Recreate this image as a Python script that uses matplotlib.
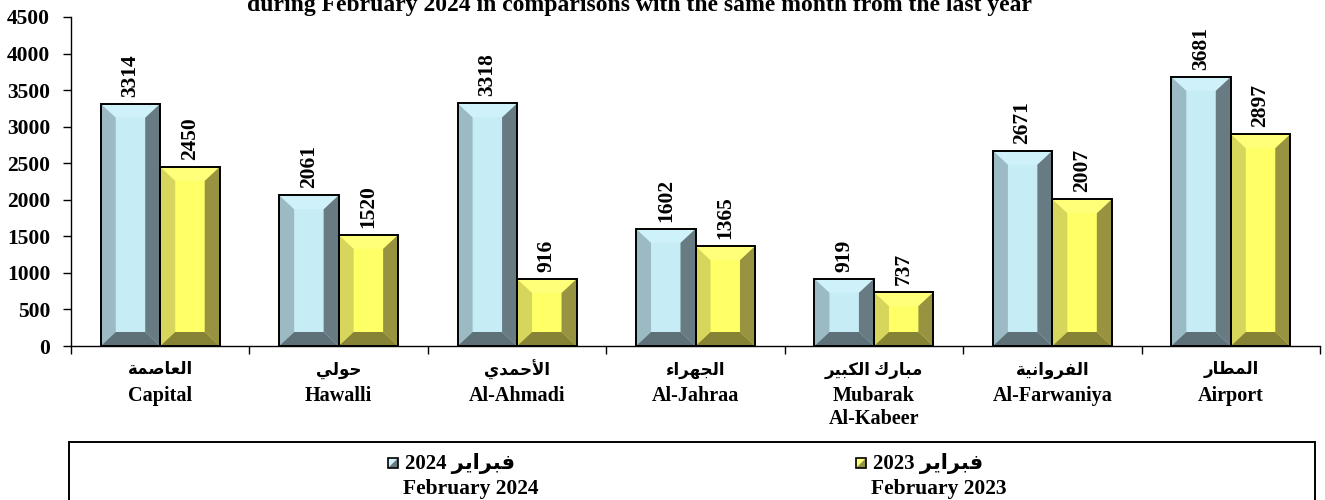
import numpy as np
import matplotlib
matplotlib.use("Agg")
import matplotlib.pyplot as plt
from matplotlib.patches import Polygon, Rectangle

# data
areas_en = ["Capital", "Hawalli", "Al-Ahmadi", "Al-Jahraa", "Mubarak\nAl-Kabeer", "Al-Farwaniya", "Airport"]
areas_ar = ["العاصمة", "حولي", "الأحمدي", "الجهراء", "مبارك الكبير", "الفروانية", "المطار"]
feb_2024 = [3314, 2061, 3318, 1602, 919, 2671, 3681]
feb_2023 = [2450, 1520, 916, 1365, 737, 2007, 2897]
series_en = ["February 2024", "February 2023"]
series_year = ["2024", "2023"]
month_ar = "فبراير"
title = "during February 2024 in comparisons with the same month from the last year"

# tiny arabic shaper: (isolated, final, initial, medial)
FORMS = {
    "\u0621": (0xFE80, None, None, None),
    "\u0623": (0xFE83, 0xFE84, None, None),
    "\u0627": (0xFE8D, 0xFE8E, None, None),
    "\u0628": (0xFE8F, 0xFE90, 0xFE91, 0xFE92),
    "\u0629": (0xFE93, 0xFE94, None, None),
    "\u062C": (0xFE9D, 0xFE9E, 0xFE9F, 0xFEA0),
    "\u062D": (0xFEA1, 0xFEA2, 0xFEA3, 0xFEA4),
    "\u062F": (0xFEA9, 0xFEAA, None, None),
    "\u0631": (0xFEAD, 0xFEAE, None, None),
    "\u0635": (0xFEB9, 0xFEBA, 0xFEBB, 0xFEBC),
    "\u0637": (0xFEC1, 0xFEC2, 0xFEC3, 0xFEC4),
    "\u0639": (0xFEC9, 0xFECA, 0xFECB, 0xFECC),
    "\u0641": (0xFED1, 0xFED2, 0xFED3, 0xFED4),
    "\u0643": (0xFED9, 0xFEDA, 0xFEDB, 0xFEDC),
    "\u0644": (0xFEDD, 0xFEDE, 0xFEDF, 0xFEE0),
    "\u0645": (0xFEE1, 0xFEE2, 0xFEE3, 0xFEE4),
    "\u0646": (0xFEE5, 0xFEE6, 0xFEE7, 0xFEE8),
    "\u0647": (0xFEE9, 0xFEEA, 0xFEEB, 0xFEEC),
    "\u0648": (0xFEED, 0xFEEE, None, None),
    "\u064A": (0xFEF1, 0xFEF2, 0xFEF3, 0xFEF4),
    "LA_HAMZA": (0xFEF7, 0xFEF8, None, None),
    "LA": (0xFEFB, 0xFEFC, None, None),
}


def ar(s):
    toks = []
    i = 0
    while i < len(s):
        if s[i] == "\u0644" and i + 1 < len(s) and s[i + 1] in ("\u0623", "\u0627"):
            toks.append("LA_HAMZA" if s[i + 1] == "\u0623" else "LA")
            i += 2
        else:
            toks.append(s[i])
            i += 1
    out = []
    for k, t in enumerate(toks):
        if t not in FORMS:
            out.append(t)
            continue
        f = FORMS[t]
        prev = toks[k - 1] if k > 0 else None
        nxt = toks[k + 1] if k + 1 < len(toks) else None
        jp = prev in FORMS and FORMS[prev][2] is not None and f[1] is not None
        jn = f[2] is not None and nxt in FORMS and FORMS[nxt][1] is not None
        if jp and jn:
            c = f[3]
        elif jp:
            c = f[1]
        elif jn:
            c = f[2]
        else:
            c = f[0]
        out.append(chr(c))
    return "".join(out[::-1])


serif = ["Liberation Serif", "DejaVu Sans"]
plt.rcParams["font.family"] = serif
plt.rcParams["font.weight"] = "bold"

W, H = 1325, 500
fig = plt.figure(figsize=(W / 100, H / 100), dpi=100)
ax = fig.add_axes([71 / W, 1 - 346 / H, (1320 - 71) / W, 329 / H])

x = np.arange(len(areas_en))
bw = 1 / 3
ax.set_xlim(-0.5, len(x) - 0.5)
ax.set_ylim(0, 4500)

# colours: face, top, left, right, bottom
blue = ["#C6ECF6", "#CFF1F9", "#9BBAC4", "#687B83", "#5E7178"]
yellow = ["#FFFF66", "#FFFF7A", "#D6D55C", "#979340", "#878336"]

p0 = ax.transData.transform((0, 0))
p1 = ax.transData.transform((1, 1000))
bev_x = 15 / (p1[0] - p0[0])
bev_y = 14 / ((p1[1] - p0[1]) / 1000)


def bevel_bars(pos, vals, cols):
    bars = ax.bar(pos, vals, bw, color=cols[0], edgecolor="none", zorder=2)
    for b in bars:
        x0, x1 = b.get_x(), b.get_x() + b.get_width()
        y0, y1 = 0, b.get_height()
        dx, dy = bev_x, min(bev_y, y1 / 3)
        shapes = [
            ([(x0, y1), (x1, y1), (x1 - dx, y1 - dy), (x0 + dx, y1 - dy)], cols[1]),
            ([(x0, y0), (x0, y1), (x0 + dx, y1 - dy), (x0 + dx, y0 + dy)], cols[2]),
            ([(x1, y0), (x1, y1), (x1 - dx, y1 - dy), (x1 - dx, y0 + dy)], cols[3]),
            ([(x0, y0), (x1, y0), (x1 - dx, y0 + dy), (x0 + dx, y0 + dy)], cols[4]),
        ]
        for pts, c in shapes:
            ax.add_patch(Polygon(pts, closed=True, facecolor=c, edgecolor="none", zorder=3))
    ax.bar(pos, vals, bw, fill=False, edgecolor="black", linewidth=1.4, zorder=4)
    for xi, v in zip(pos, vals):
        ax.annotate(str(v), (xi, v), xytext=(0, 5), textcoords="offset points",
                    rotation=90, ha="center", va="bottom", fontsize=15.5, fontweight="bold")


bevel_bars(x - bw / 2, feb_2024, blue)
bevel_bars(x + bw / 2, feb_2023, yellow)

for s in ["top", "right"]:
    ax.spines[s].set_visible(False)
for s in ["left", "bottom"]:
    ax.spines[s].set_linewidth(1.0)

ax.set_yticks(np.arange(0, 4501, 500))
ax.tick_params(axis="y", direction="out", length=6, width=1, pad=9, labelsize=15.5)
ax.set_xticks(x, areas_en)
ax.tick_params(axis="x", which="major", length=0, pad=29, labelsize=14.5)
ax.set_xticks(np.arange(-0.5, len(x), 1), minor=True)
ax.tick_params(axis="x", which="minor", direction="out", length=6, width=1)

for xi, name in zip(x, areas_ar):
    ax.text(xi, -24 / 329, ar(name), transform=ax.get_xaxis_transform(),
            ha="center", va="center", fontsize=12, fontweight="bold")

fig.text(0.483, 1 - 11 / H, title, ha="center", va="baseline", fontsize=17, fontweight="bold")

# legend box
fig.add_artist(Rectangle((69 / W, -0.1), (1315 - 69) / W, 0.1 + 1 - 442 / H,
                         transform=fig.transFigure, fill=False, edgecolor="black", linewidth=1.4))
for sx, cols, yr, name in zip([388, 856], [blue, yellow], series_year, series_en):
    xa, xb = sx / W, (sx + 10) / W
    ya, yb = 1 - 468 / H, 1 - 458 / H
    fig.add_artist(Polygon([(xa, yb), (xb, yb), (xa, ya)], closed=True, transform=fig.transFigure,
                           facecolor=cols[1], edgecolor="none"))
    fig.add_artist(Polygon([(xb, yb), (xb, ya), (xa, ya)], closed=True, transform=fig.transFigure,
                           facecolor=cols[3], edgecolor="none"))
    fig.add_artist(Rectangle((xa, ya), xb - xa, yb - ya, transform=fig.transFigure,
                             fill=False, edgecolor="black", linewidth=1.2))
    fig.text((sx + 17) / W, 1 - 463 / H, yr + " " + ar(month_ar), ha="left", va="center",
             fontsize=15, fontweight="bold")
    fig.text((sx + 15) / W, 1 - 489 / H, name, ha="left", va="center", fontsize=15.5, fontweight="bold")

fig.savefig("out.png", dpi=100)
